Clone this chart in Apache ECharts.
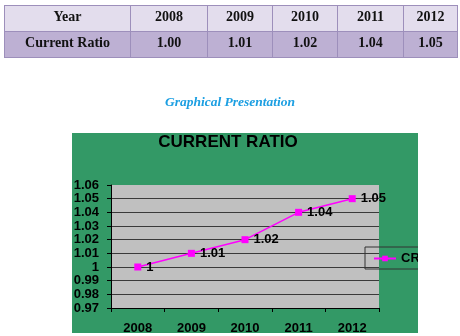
<!DOCTYPE html>
<html>
<head>
<meta charset="utf-8">
<script src="https://cdn.jsdelivr.net/npm/echarts@6/dist/echarts.min.js"></script>
<style>
  html, body { margin: 0; padding: 0; background: #fff; }
  #wrap { position: relative; width: 460px; height: 336px; overflow: hidden; }
  #chart { position: absolute; left: 0; top: 0; width: 460px; height: 336px; }
  #ratioTable {
    position: absolute; left: 4px; top: 5px; border-collapse: collapse;
    font-family: "Liberation Serif", "Times New Roman", serif; font-weight: bold; font-size: 14px;
    color: #111; z-index: 2;
  }
  #ratioTable td {
    border: 1px solid #9d8fbb; text-align: center; vertical-align: top;
    padding: 3px 0 0 0; box-sizing: border-box; height: 26px;
  }
  #ratioTable tr.head td { background: #e3dded; }
  #ratioTable tr.body td { background: #bdb0d3; }
  #subtitle {
    position: absolute; left: 0; width: 460px; top: 94px; text-align: center;
    font-family: "Liberation Serif", "Times New Roman", serif; font-style: italic; font-weight: bold;
    font-size: 13.5px; color: #1c9fe2; z-index: 2;
  }
</style>
</head>
<body>
<div id="wrap">
  <div id="chart"></div>
  <table id="ratioTable"></table>
  <div id="subtitle">Graphical Presentation</div>
</div>
<script>
// Current ratio by year
const years = ['2008', '2009', '2010', '2011', '2012'];
const currentRatio = [1.00, 1.01, 1.02, 1.04, 1.05];
const rowHeaders = ['Year', 'Current Ratio'];
const seriesName = 'CR';
const chartTitle = 'CURRENT RATIO';
const yMin = 0.97, yMax = 1.06, yStep = 0.01;

// Summary table above the chart
const colWidths = [126, 77, 65, 65, 66, 54];
const table = document.getElementById('ratioTable');
const headRow = document.createElement('tr');
headRow.className = 'head';
const bodyRow = document.createElement('tr');
bodyRow.className = 'body';
[rowHeaders[0]].concat(years).forEach((t, i) => {
  const td = document.createElement('td');
  td.textContent = t;
  td.style.width = colWidths[i] + 'px';
  headRow.appendChild(td);
});
[rowHeaders[1]].concat(currentRatio.map(v => v.toFixed(2))).forEach((t, i) => {
  const td = document.createElement('td');
  td.textContent = t;
  td.style.width = colWidths[i] + 'px';
  bodyRow.appendChild(td);
});
table.appendChild(headRow);
table.appendChild(bodyRow);

// Line chart
const sans = '"Liberation Sans", Arial, sans-serif';
const chart = echarts.init(document.getElementById('chart'), null, { renderer: 'canvas' });
const gridLineColors = [];
for (let i = 0; i < 9; i++) gridLineColors.push('#3a3a3a');
gridLineColors.push('#c0c0c0');

chart.setOption({
  animation: false,
  backgroundColor: 'transparent',
  title: {
    text: chartTitle,
    left: 228,
    top: 134,
    padding: 0,
    textAlign: 'center',
    textStyle: { fontFamily: sans, fontWeight: 'bold', fontSize: 17, color: '#000' }
  },
  graphic: [
    { type: 'rect', z: -10, shape: { x: 72, y: 133, width: 346, height: 200 }, style: { fill: '#339966' } },
    { type: 'rect', z: 100, shape: { x: 418, y: 133, width: 42, height: 203 }, style: { fill: '#ffffff' } }
  ],
  legend: {
    data: [seriesName],
    left: 365,
    top: 247,
    padding: [5, 8, 4, 8],
    itemWidth: 22,
    itemHeight: 7,
    itemGap: 5,
    borderColor: '#333',
    borderWidth: 1,
    textStyle: { fontFamily: sans, fontSize: 13, fontWeight: 'bold', color: '#000' }
  },
  grid: {
    left: 111, top: 185, width: 268, height: 123,
    show: true, backgroundColor: '#c0c0c0', borderWidth: 0
  },
  xAxis: {
    type: 'category',
    data: years,
    boundaryGap: true,
    axisLine: { lineStyle: { color: '#000', width: 1 } },
    axisTick: { show: true, length: 4, lineStyle: { color: '#000' } },
    axisLabel: { margin: 14, fontFamily: sans, fontWeight: 'bold', fontSize: 13, color: '#000' },
    splitLine: { show: false }
  },
  yAxis: {
    type: 'value',
    min: yMin, max: yMax, interval: yStep,
    axisLine: { show: true, lineStyle: { color: '#000', width: 1 } },
    axisTick: { show: true, length: 4, lineStyle: { color: '#000' } },
    axisLabel: {
      margin: 12, fontFamily: sans, fontWeight: 'bold', fontSize: 13, color: '#000',
      formatter: v => String(+v.toFixed(2))
    },
    splitLine: { show: true, lineStyle: { color: gridLineColors, width: 1 } }
  },
  series: [{
    name: seriesName,
    type: 'line',
    data: currentRatio,
    symbol: 'rect',
    symbolSize: 7,
    lineStyle: { color: '#ff00ff', width: 1.5 },
    itemStyle: { color: '#ff00ff' },
    label: {
      show: true, position: 'right', distance: 5,
      fontFamily: sans, fontSize: 13, fontWeight: 'bold', color: '#000',
      formatter: p => String(p.value)
    }
  }]
});
</script>
</body>
</html>
